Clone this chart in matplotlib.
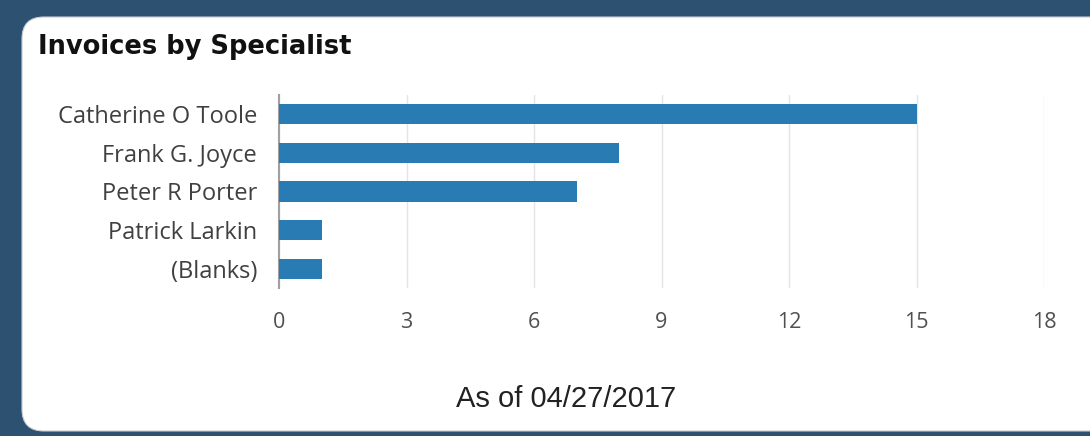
import matplotlib
matplotlib.use("Agg")
import matplotlib.pyplot as plt
from matplotlib.patches import FancyBboxPatch

categories = ["Catherine O Toole", "Frank G. Joyce", "Peter R Porter", "Patrick Larkin", "(Blanks)"]
values = [15, 8, 7, 1, 1]
xticks = [0, 3, 6, 9, 12, 15, 18]
title = "Invoices by Specialist"
footer = "As of 04/27/2017"

W, H = 1090, 436
fig = plt.figure(figsize=(W / 100, H / 100), dpi=100)
fig.patch.set_facecolor("#2d5171")

card = FancyBboxPatch((22 / W, 1 - 431 / H), (W + 30 - 22) / W, (431 - 17) / H,
                      boxstyle="round,pad=0,rounding_size=0.02",
                      transform=fig.transFigure, facecolor="white",
                      edgecolor="#c8ccd0", linewidth=0.8, mutation_aspect=W / H,
                      zorder=-10)
fig.patches.append(card)

ax = fig.add_axes([279 / W, 1 - 288 / H, (1044 - 279) / W, (288 - 95) / H])
ax.set_facecolor("none")
ax.set_zorder(5)
ypos = list(range(len(categories)))
ax.barh(ypos, values, height=0.52, color="#287bb3", zorder=3)
ax.set_ylim(len(categories) - 0.5, -0.5)
ax.set_xlim(0, 18)
ax.set_yticks(ypos)
ax.set_yticklabels(categories, fontsize=17, color="#404040", fontfamily="Open Sans")
ax.set_xticks(xticks)
ax.set_xticklabels([str(t) for t in xticks], fontsize=15.5, color="#505050",
                   fontfamily="Open Sans")
ax.tick_params(axis="both", length=0)
ax.tick_params(axis="x", pad=17)
ax.tick_params(axis="y", pad=15.8)
ax.grid(axis="x", color="#e4e4e4", linewidth=1, zorder=0)
for s in ["top", "right", "bottom"]:
    ax.spines[s].set_visible(False)
ax.spines["left"].set_color("#a0a0a0")
ax.spines["left"].set_linewidth(1.5)

fig.text(38 / W, 1 - 47 / H, title, fontsize=18.5, fontweight="bold",
         color="#111111", va="center", ha="left", fontfamily="DejaVu Sans")
fig.text(566 / W, 1 - 399 / H, footer, fontsize=21, color="#222222",
         va="center", ha="center", fontfamily="Liberation Sans")

fig.savefig("out.png", dpi=100, facecolor=fig.get_facecolor())
